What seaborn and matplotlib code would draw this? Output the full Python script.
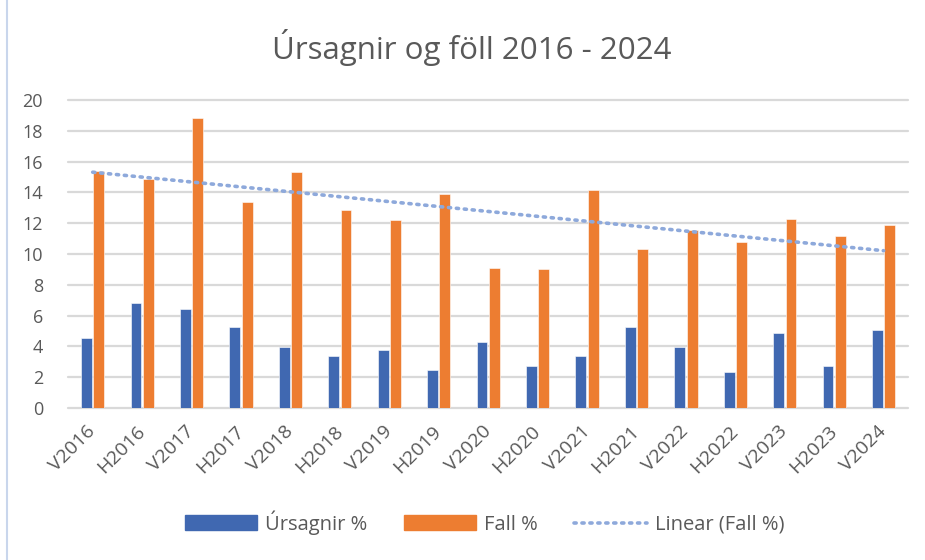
import numpy as np
import pandas as pd
import seaborn as sns
import matplotlib.pyplot as plt
from matplotlib.patches import Patch
from matplotlib.lines import Line2D

periods = ["V2016", "H2016", "V2017", "H2017", "V2018", "H2018", "V2019", "H2019",
           "V2020", "H2020", "V2021", "H2021", "V2022", "H2022", "V2023", "H2023", "V2024"]
ursagnir = [4.55, 6.8, 6.4, 5.25, 3.95, 3.35, 3.75, 2.5, 4.3, 2.7, 3.35, 5.25,
            3.95, 2.35, 4.85, 2.75, 5.05]
fall = [15.4, 14.9, 18.8, 13.4, 15.3, 12.85, 12.2, 13.9, 9.1, 9.0, 14.15,
        10.35, 11.55, 10.75, 12.3, 11.15, 11.9]
yticks = list(range(0, 21, 2))

blue = "#4068B1"
orange = "#ED7D31"
trend_col = "#8EA9DB"
txt = "#595959"

df = pd.DataFrame({"period": periods * 2,
                   "value": ursagnir + fall,
                   "series": ["Úrsagnir %"] * len(periods) + ["Fall %"] * len(periods)})

sns.set_style("white")
plt.rcParams["font.family"] = ["Open Sans", "DejaVu Sans"]

fig = plt.figure(figsize=(9.25, 5.6), dpi=100)
ax = fig.add_axes([0.0735, 0.2714, 0.9085, 0.55])

sns.barplot(data=df, x="period", y="value", hue="series",
            palette=[blue, orange], width=0.5, gap=0.12, ax=ax,
            legend=False, saturation=1, edgecolor="white", linewidth=0.4)

# linear trendline for Fall %, like excel
xs = np.arange(len(periods))
k, m = np.polyfit(xs, fall, 1)
ax.plot(xs, k * xs + m, color=trend_col, linestyle=(0, (0.6, 1.6)),
        linewidth=2.6, dash_capstyle="round", zorder=3)

ax.set_ylim(0, 20)
ax.set_xlim(-0.5, len(periods) - 0.5)
ax.set_yticks(yticks)
ax.yaxis.grid(True, color="#d9d9d9", linewidth=1.6)
for gl in ax.get_ygridlines():
    gl.set_clip_on(False)
ax.set_axisbelow(True)
for s in ax.spines.values():
    s.set_visible(False)
ax.set_xlabel("")
ax.set_ylabel("")
ax.tick_params(axis="both", length=0, colors=txt)
ax.tick_params(axis="y", pad=18, labelsize=13)
ax.tick_params(axis="x", pad=15, labelsize=14)
plt.setp(ax.get_xticklabels(), rotation=45, ha="right", va="center",
         rotation_mode="anchor")

fig.suptitle("Úrsagnir og föll 2016 - 2024", x=0.51, y=0.948, fontsize=22.5, color=txt)

# faint border on the left like the screenshot
fig.add_artist(Line2D([0.008, 0.008], [0, 1], color="#c9d6ec", linewidth=1.5))

handles = [Patch(facecolor=blue, edgecolor=blue),
           Patch(facecolor=orange, edgecolor=orange),
           Line2D([0], [0], color=trend_col, linestyle=(0, (0.6, 1.6)), linewidth=2.6,
                  dash_capstyle="round")]
fig.legend(handles, ["Úrsagnir %", "Fall %", "Linear (Fall %)"],
           loc="center", bbox_to_anchor=(0.524, 0.067), ncol=3, frameon=False,
           fontsize=14.5, labelcolor=txt, handlelength=3.6, handleheight=0.75,
           columnspacing=1.8, handletextpad=0.4)

fig.savefig("out.png", dpi=100, facecolor="white")
